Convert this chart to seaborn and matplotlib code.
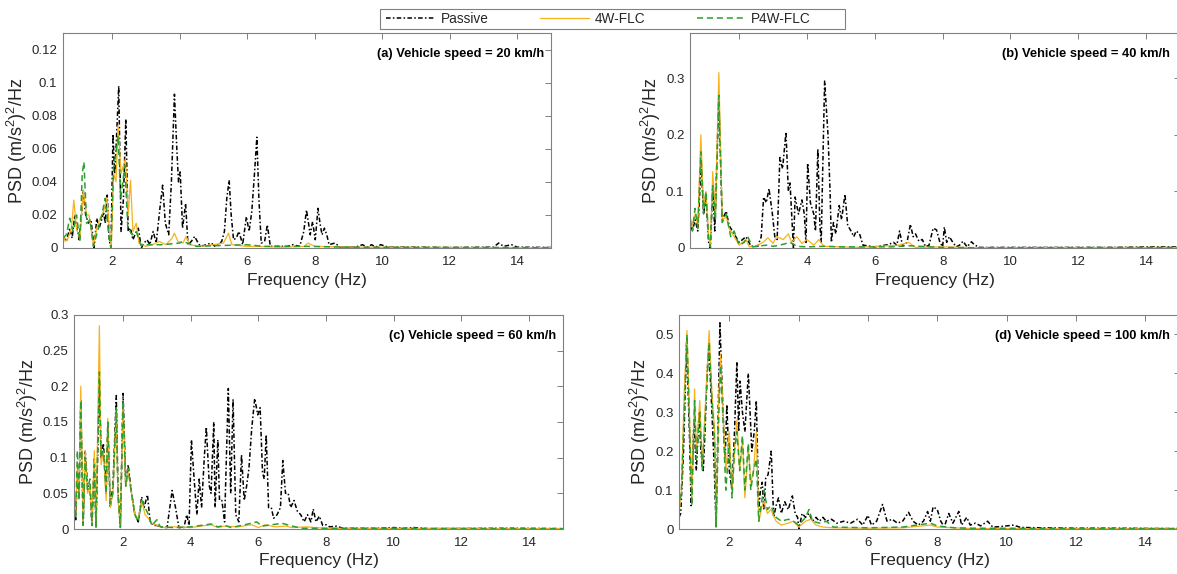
import pandas as pd
import seaborn as sns
import matplotlib.pyplot as plt
import matplotlib.ticker as mticker
from matplotlib.lines import Line2D
from matplotlib.patches import Rectangle

sns.set_style('white')
plt.rcParams['font.family'] = ['Liberation Sans', 'DejaVu Sans']
plt.rcParams['mathtext.fontset'] = 'custom'
plt.rcParams['mathtext.rm'] = 'Liberation Sans'
plt.rcParams['mathtext.it'] = 'Liberation Sans:italic'
plt.rcParams['mathtext.bf'] = 'Liberation Sans:bold'

controllers = ['Passive', '4W-FLC', 'P4W-FLC']
panel_titles = ['(a) Vehicle speed = 20 km/h', '(b) Vehicle speed = 40 km/h',
                '(c) Vehicle speed = 60 km/h', '(d) Vehicle speed = 100 km/h']
y_limits = [0.13, 0.38, 0.30, 0.55]
y_steps = [0.02, 0.1, 0.05, 0.1]
x_ticks = [2, 4, 6, 8, 10, 12, 14]

# (frequency Hz, PSD)
a_passive = [(0.55, 0.007), (0.65, 0.004), (0.75, 0.012), (0.82, 0.006), (0.9, 0.02), (0.96, 0.012),
             (1.03, 0.005), (1.1, 0.02), (1.15, 0.035), (1.22, 0.02), (1.3, 0.015), (1.38, 0.017),
             (1.47, 0.0), (1.55, 0.018), (1.62, 0.012), (1.68, 0.016), (1.75, 0.022), (1.8, 0.015),
             (1.86, 0.032), (1.92, 0.005), (1.97, 0.0), (2.03, 0.069), (2.08, 0.045), (2.12, 0.06),
             (2.2, 0.098), (2.27, 0.01), (2.34, 0.03), (2.41, 0.078), (2.48, 0.01), (2.55, 0.012),
             (2.62, 0.005), (2.7, 0.009), (2.78, 0.012), (2.87, 0.0), (2.95, 0.003), (3.04, 0.005),
             (3.12, 0.002), (3.22, 0.01), (3.31, 0.003), (3.42, 0.024), (3.5, 0.038), (3.58, 0.015),
             (3.68, 0.008), (3.76, 0.04), (3.85, 0.093), (3.92, 0.06), (3.97, 0.04), (4.02, 0.046),
             (4.09, 0.012), (4.18, 0.027), (4.25, 0.002), (4.35, 0.004), (4.45, 0.007), (4.55, 0.003),
             (4.62, 0.001), (4.8, 0.002), (4.94, 0.003), (5.05, 0.001), (5.16, 0.002), (5.25, 0.004),
             (5.33, 0.01), (5.4, 0.03), (5.47, 0.041), (5.53, 0.02), (5.6, 0.005), (5.68, 0.006),
             (5.76, 0.01), (5.87, 0.002), (5.98, 0.019), (6.06, 0.01), (6.14, 0.022), (6.22, 0.045),
             (6.29, 0.067), (6.35, 0.03), (6.42, 0.003), (6.52, 0.004), (6.6, 0.014), (6.69, 0.001),
             (7.0, 0.001), (7.2, 0.001), (7.34, 0.002), (7.56, 0.001), (7.68, 0.01), (7.76, 0.023),
             (7.82, 0.015), (7.87, 0.008), (7.94, 0.016), (8.02, 0.005), (8.1, 0.024), (8.16, 0.015),
             (8.22, 0.008), (8.29, 0.012), (8.36, 0.008), (8.43, 0.002), (8.6, 0.003), (8.76, 0.0005),
             (9.2, 0.0005), (9.42, 0.002), (9.55, 0.0005), (9.69, 0.002), (9.8, 0.0005), (9.96, 0.002),
             (10.18, 0.0005), (11.0, 0.0005), (12.0, 0.0003), (13.3, 0.0005), (13.45, 0.003),
             (13.6, 0.001), (13.83, 0.002), (14.0, 0.0005), (15.0, 0.0003)]
a_4w = [(0.55, 0.008), (0.62, 0.004), (0.7, 0.006), (0.8, 0.012), (0.87, 0.029), (0.95, 0.012),
        (1.05, 0.005), (1.15, 0.035), (1.25, 0.02), (1.32, 0.02), (1.45, 0.002), (1.55, 0.012),
        (1.65, 0.018), (1.75, 0.022), (1.85, 0.03), (1.93, 0.01), (1.98, 0.0), (2.05, 0.045),
        (2.12, 0.04), (2.18, 0.074), (2.27, 0.045), (2.4, 0.054), (2.48, 0.02), (2.55, 0.041),
        (2.62, 0.01), (2.72, 0.015), (2.8, 0.003), (3.0, 0.001), (3.2, 0.002), (3.4, 0.004),
        (3.6, 0.002), (3.78, 0.006), (3.85, 0.009), (3.95, 0.004), (4.1, 0.003), (4.2, 0.007),
        (4.3, 0.002), (4.6, 0.001), (5.0, 0.002), (5.3, 0.003), (5.45, 0.009), (5.55, 0.002),
        (6.0, 0.001), (6.3, 0.001), (7.0, 0.0005), (7.7, 0.001), (7.8, 0.003), (8.0, 0.001),
        (9.0, 0.0005), (12.0, 0.0003), (15.0, 0.0002)]
a_p4w = [(0.55, 0.006), (0.65, 0.008), (0.75, 0.018), (0.85, 0.01), (0.95, 0.02), (1.05, 0.004),
         (1.12, 0.045), (1.17, 0.052), (1.25, 0.015), (1.35, 0.017), (1.45, 0.001), (1.6, 0.012),
         (1.7, 0.02), (1.8, 0.03), (1.9, 0.008), (1.97, 0.0), (2.05, 0.05), (2.1, 0.055),
         (2.18, 0.068), (2.26, 0.03), (2.38, 0.05), (2.47, 0.012), (2.6, 0.008), (2.72, 0.01),
         (2.85, 0.002), (3.5, 0.002), (4.0, 0.003), (4.1, 0.004), (4.5, 0.001), (6.0, 0.002),
         (6.5, 0.001), (7.8, 0.001), (9.0, 0.0005), (15.0, 0.0002)]

b_passive = [(0.55, 0.04), (0.62, 0.03), (0.7, 0.05), (0.78, 0.03), (0.88, 0.15), (0.95, 0.06),
             (1.02, 0.09), (1.1, 0.01), (1.15, 0.0), (1.22, 0.11), (1.28, 0.03), (1.4, 0.27),
             (1.5, 0.05), (1.62, 0.065), (1.7, 0.04), (1.85, 0.025), (2.0, 0.01), (2.2, 0.02),
             (2.35, 0.003), (2.55, 0.003), (2.65, 0.02), (2.72, 0.09), (2.8, 0.08), (2.88, 0.105),
             (2.98, 0.06), (3.05, 0.02), (3.12, 0.015), (3.2, 0.16), (3.28, 0.14), (3.38, 0.205),
             (3.45, 0.1), (3.5, 0.115), (3.6, 0.0), (3.65, 0.09), (3.75, 0.06), (3.85, 0.085),
             (3.92, 0.06), (3.97, 0.01), (4.02, 0.15), (4.1, 0.08), (4.15, 0.07), (4.2, 0.06),
             (4.25, 0.03), (4.32, 0.175), (4.38, 0.04), (4.42, 0.01), (4.45, 0.1), (4.52, 0.295),
             (4.62, 0.2), (4.68, 0.1), (4.72, 0.01), (4.78, 0.045), (4.85, 0.025), (4.95, 0.075),
             (5.02, 0.05), (5.12, 0.095), (5.2, 0.04), (5.3, 0.03), (5.38, 0.02), (5.45, 0.03),
             (5.55, 0.025), (5.65, 0.005), (6.0, 0.002), (6.4, 0.006), (6.55, 0.01), (6.65, 0.005),
             (6.73, 0.03), (6.82, 0.003), (6.95, 0.01), (7.05, 0.042), (7.13, 0.02), (7.2, 0.025),
             (7.3, 0.012), (7.4, 0.015), (7.5, 0.002), (7.6, 0.005), (7.72, 0.035), (7.82, 0.032),
             (7.92, 0.01), (8.0, 0.002), (8.05, 0.037), (8.12, 0.01), (8.2, 0.02), (8.3, 0.01),
             (8.4, 0.002), (8.5, 0.005), (8.6, 0.012), (8.72, 0.002), (8.85, 0.011), (8.95, 0.005),
             (9.1, 0.001), (11.0, 0.001), (13.0, 0.001), (14.2, 0.002), (15.0, 0.002)]
b_4w = [(0.55, 0.055), (0.62, 0.04), (0.7, 0.06), (0.78, 0.04), (0.87, 0.2), (0.95, 0.07),
        (1.02, 0.1), (1.1, 0.02), (1.15, 0.003), (1.22, 0.135), (1.3, 0.06), (1.4, 0.31),
        (1.5, 0.05), (1.62, 0.055), (1.7, 0.035), (1.85, 0.02), (2.0, 0.005), (2.2, 0.015),
        (2.3, 0.002), (2.5, 0.003), (2.7, 0.01), (2.85, 0.018), (3.0, 0.008), (3.1, 0.02),
        (3.3, 0.015), (3.45, 0.025), (3.55, 0.01), (3.7, 0.02), (3.85, 0.008), (4.0, 0.015),
        (4.2, 0.005), (4.35, 0.015), (4.5, 0.003), (5.0, 0.002), (5.5, 0.001), (6.7, 0.005),
        (7.0, 0.01), (7.2, 0.001), (8.0, 0.002), (9.0, 0.0005), (15.0, 0.001)]
b_p4w = [(0.55, 0.05), (0.62, 0.03), (0.7, 0.07), (0.78, 0.035), (0.87, 0.17), (0.95, 0.06),
         (1.02, 0.1), (1.1, 0.015), (1.15, 0.002), (1.22, 0.11), (1.3, 0.05), (1.4, 0.27),
         (1.5, 0.045), (1.62, 0.06), (1.75, 0.02), (1.85, 0.03), (2.0, 0.005), (2.15, 0.01),
         (2.25, 0.02), (2.4, 0.002), (2.8, 0.005), (3.0, 0.003), (3.2, 0.005), (3.5, 0.01),
         (3.7, 0.003), (4.0, 0.002), (4.5, 0.003), (5.0, 0.002), (6.5, 0.002), (7.0, 0.004),
         (8.0, 0.001), (9.0, 0.0005), (15.0, 0.001)]

c_passive = [(0.55, 0.06), (0.6, 0.013), (0.65, 0.08), (0.7, 0.05), (0.75, 0.18), (0.82, 0.005),
             (0.88, 0.11), (0.95, 0.06), (1.02, 0.06), (1.08, 0.005), (1.15, 0.1), (1.2, 0.003),
             (1.3, 0.21), (1.35, 0.1), (1.42, 0.12), (1.5, 0.05), (1.55, 0.15), (1.62, 0.03),
             (1.7, 0.06), (1.8, 0.187), (1.85, 0.05), (1.92, 0.003), (2.0, 0.19), (2.08, 0.06),
             (2.15, 0.09), (2.25, 0.05), (2.35, 0.02), (2.45, 0.01), (2.55, 0.045), (2.62, 0.03),
             (2.72, 0.048), (2.8, 0.01), (2.9, 0.005), (3.0, 0.005), (3.1, 0.003), (3.3, 0.002),
             (3.45, 0.054), (3.55, 0.03), (3.65, 0.002), (3.8, 0.002), (3.88, 0.02), (3.95, 0.005),
             (4.02, 0.125), (4.1, 0.07), (4.18, 0.02), (4.25, 0.07), (4.32, 0.03), (4.4, 0.1),
             (4.46, 0.143), (4.55, 0.06), (4.6, 0.05), (4.68, 0.15), (4.72, 0.03), (4.8, 0.125),
             (4.85, 0.04), (4.92, 0.04), (5.0, 0.01), (5.11, 0.197), (5.18, 0.05), (5.25, 0.182),
             (5.33, 0.02), (5.42, 0.01), (5.5, 0.104), (5.58, 0.04), (5.65, 0.06), (5.72, 0.085),
             (5.8, 0.14), (5.89, 0.183), (5.98, 0.16), (6.05, 0.17), (6.12, 0.08), (6.17, 0.07),
             (6.23, 0.132), (6.3, 0.03), (6.38, 0.03), (6.45, 0.015), (6.55, 0.02), (6.65, 0.03),
             (6.72, 0.096), (6.8, 0.05), (6.88, 0.05), (6.95, 0.03), (7.05, 0.04), (7.15, 0.025),
             (7.25, 0.02), (7.35, 0.01), (7.45, 0.02), (7.55, 0.01), (7.62, 0.028), (7.7, 0.01),
             (7.8, 0.018), (7.9, 0.005), (8.0, 0.006), (8.1, 0.003), (8.3, 0.004), (8.5, 0.001),
             (9.5, 0.001), (10.0, 0.002), (10.3, 0.001), (10.6, 0.002), (11.0, 0.0005),
             (13.5, 0.001), (15.0, 0.0005)]
c_4w = [(0.55, 0.06), (0.6, 0.02), (0.65, 0.09), (0.7, 0.05), (0.75, 0.2), (0.82, 0.01),
        (0.88, 0.11), (0.95, 0.05), (1.02, 0.06), (1.08, 0.01), (1.15, 0.11), (1.2, 0.005),
        (1.3, 0.285), (1.35, 0.09), (1.42, 0.11), (1.5, 0.04), (1.55, 0.155), (1.62, 0.03),
        (1.7, 0.05), (1.8, 0.17), (1.85, 0.04), (1.92, 0.005), (2.0, 0.175), (2.08, 0.06),
        (2.15, 0.08), (2.25, 0.05), (2.35, 0.02), (2.45, 0.015), (2.55, 0.04), (2.65, 0.02),
        (2.75, 0.015), (2.85, 0.008), (3.0, 0.005), (3.2, 0.002), (3.5, 0.003), (4.0, 0.002),
        (4.3, 0.004), (4.6, 0.006), (4.8, 0.002), (5.0, 0.004), (5.4, 0.003), (5.8, 0.006),
        (6.0, 0.002), (6.2, 0.006), (6.5, 0.003), (6.8, 0.004), (7.0, 0.002), (7.4, 0.003),
        (8.0, 0.001), (9.0, 0.001), (15.0, 0.0005)]
c_p4w = [(0.55, 0.055), (0.6, 0.015), (0.65, 0.11), (0.7, 0.04), (0.75, 0.18), (0.82, 0.005),
         (0.88, 0.1), (0.95, 0.055), (1.02, 0.07), (1.08, 0.005), (1.15, 0.09), (1.2, 0.003),
         (1.3, 0.22), (1.35, 0.1), (1.42, 0.11), (1.5, 0.05), (1.55, 0.15), (1.62, 0.035),
         (1.7, 0.05), (1.8, 0.17), (1.85, 0.05), (1.92, 0.002), (2.0, 0.18), (2.08, 0.06),
         (2.15, 0.085), (2.25, 0.05), (2.35, 0.02), (2.45, 0.01), (2.55, 0.04), (2.65, 0.03),
         (2.75, 0.02), (2.85, 0.005), (3.0, 0.013), (3.1, 0.003), (3.5, 0.002), (4.0, 0.003),
         (4.3, 0.005), (4.6, 0.007), (4.8, 0.003), (5.0, 0.005), (5.2, 0.002), (5.6, 0.006),
         (5.95, 0.01), (6.1, 0.004), (6.4, 0.006), (6.7, 0.008), (7.0, 0.004), (7.3, 0.001),
         (8.0, 0.001), (15.0, 0.0005)]

d_passive = [(0.55, 0.03), (0.6, 0.04), (0.68, 0.2), (0.77, 0.48), (0.85, 0.25), (0.9, 0.06),
             (0.98, 0.28), (1.05, 0.15), (1.13, 0.3), (1.18, 0.2), (1.25, 0.15), (1.3, 0.25),
             (1.36, 0.4), (1.41, 0.47), (1.5, 0.3), (1.57, 0.15), (1.62, 0.005), (1.68, 0.3),
             (1.73, 0.53), (1.82, 0.3), (1.88, 0.18), (1.93, 0.32), (2.0, 0.15), (2.08, 0.1),
             (2.15, 0.25), (2.22, 0.43), (2.27, 0.25), (2.31, 0.38), (2.38, 0.3), (2.45, 0.25),
             (2.55, 0.4), (2.6, 0.3), (2.65, 0.2), (2.72, 0.25), (2.78, 0.33), (2.85, 0.05),
             (2.9, 0.1), (2.95, 0.12), (3.0, 0.05), (3.05, 0.13), (3.12, 0.14), (3.21, 0.2),
             (3.28, 0.03), (3.35, 0.06), (3.42, 0.08), (3.5, 0.04), (3.6, 0.07), (3.7, 0.05),
             (3.82, 0.085), (3.9, 0.04), (3.97, 0.03), (4.01, 0.0), (4.1, 0.04), (4.2, 0.03),
             (4.3, 0.04), (4.4, 0.02), (4.5, 0.03), (4.6, 0.02), (4.7, 0.03), (4.8, 0.02),
             (4.95, 0.025), (5.1, 0.015), (5.3, 0.02), (5.5, 0.015), (5.7, 0.025), (5.85, 0.01),
             (6.0, 0.035), (6.1, 0.01), (6.25, 0.02), (6.42, 0.063), (6.55, 0.02), (6.7, 0.025),
             (6.85, 0.015), (7.0, 0.02), (7.17, 0.043), (7.3, 0.02), (7.45, 0.01), (7.6, 0.02),
             (7.72, 0.045), (7.8, 0.02), (7.88, 0.057), (8.0, 0.05), (8.1, 0.02), (8.2, 0.005),
             (8.33, 0.04), (8.45, 0.015), (8.62, 0.045), (8.7, 0.01), (8.85, 0.03), (8.95, 0.01),
             (9.1, 0.015), (9.25, 0.008), (9.45, 0.02), (9.6, 0.005), (9.8, 0.006), (10.0, 0.008),
             (10.2, 0.01), (10.4, 0.004), (11.0, 0.003), (12.0, 0.002), (13.0, 0.002),
             (15.0, 0.001)]
d_4w = [(0.55, 0.04), (0.62, 0.1), (0.7, 0.35), (0.78, 0.51), (0.85, 0.3), (0.92, 0.08),
        (1.0, 0.36), (1.05, 0.2), (1.15, 0.33), (1.22, 0.16), (1.3, 0.3), (1.42, 0.51),
        (1.5, 0.35), (1.58, 0.25), (1.62, 0.01), (1.7, 0.35), (1.75, 0.45), (1.82, 0.3),
        (1.9, 0.15), (2.0, 0.25), (2.08, 0.1), (2.15, 0.2), (2.22, 0.28), (2.3, 0.15),
        (2.38, 0.23), (2.45, 0.08), (2.55, 0.21), (2.62, 0.12), (2.7, 0.15), (2.78, 0.25),
        (2.85, 0.02), (2.95, 0.06), (3.0, 0.07), (3.1, 0.04), (3.2, 0.05), (3.35, 0.02),
        (3.5, 0.01), (3.7, 0.015), (3.85, 0.02), (4.0, 0.005), (4.2, 0.02), (4.35, 0.025),
        (4.5, 0.01), (4.7, 0.005), (5.0, 0.003), (6.0, 0.002), (7.0, 0.003), (7.8, 0.01),
        (8.0, 0.005), (9.0, 0.001), (15.0, 0.0005)]
d_p4w = [(0.55, 0.05), (0.62, 0.1), (0.7, 0.3), (0.78, 0.5), (0.85, 0.28), (0.92, 0.06),
         (1.0, 0.33), (1.05, 0.18), (1.15, 0.3), (1.22, 0.15), (1.3, 0.28), (1.42, 0.48),
         (1.5, 0.33), (1.58, 0.22), (1.62, 0.005), (1.7, 0.3), (1.75, 0.42), (1.82, 0.28),
         (1.9, 0.1), (2.0, 0.22), (2.08, 0.08), (2.15, 0.2), (2.22, 0.25), (2.3, 0.15),
         (2.38, 0.24), (2.45, 0.1), (2.55, 0.22), (2.62, 0.1), (2.7, 0.15), (2.78, 0.18),
         (2.85, 0.02), (2.95, 0.08), (3.0, 0.1), (3.1, 0.05), (3.2, 0.06), (3.35, 0.03),
         (3.5, 0.02), (3.7, 0.025), (3.85, 0.02), (4.0, 0.01), (4.2, 0.03), (4.3, 0.05),
         (4.4, 0.02), (4.6, 0.015), (4.8, 0.02), (5.0, 0.005), (6.0, 0.003), (7.0, 0.005),
         (7.8, 0.015), (8.0, 0.008), (8.5, 0.003), (9.0, 0.002), (15.0, 0.001)]

panels = [(a_passive, a_4w, a_p4w), (b_passive, b_4w, b_p4w),
          (c_passive, c_4w, c_p4w), (d_passive, d_4w, d_p4w)]

colors = {'Passive': 'black', '4W-FLC': '#F7B21E', 'P4W-FLC': '#2E9E2E'}
dashes = {'Passive': (3, 1.5, 1, 1.5), '4W-FLC': '', 'P4W-FLC': (4, 2.5)}
widths = {'Passive': 1.1, '4W-FLC': 0.9, 'P4W-FLC': 1.1}
frame_col = '#808080'
text_col = '#262626'

W, H = 1177, 574
fig = plt.figure(figsize=(W / 100, H / 100), dpi=100)
# axes boxes in pixels: left, top, right, bottom
boxes = [(63, 33, 551, 248), (690, 33, 1180, 248), (74, 315, 563, 529), (679, 315, 1180, 529)]
title_x = [0.985, 0.98, 0.985, 0.98]

for i, (series, box) in enumerate(zip(panels, boxes)):
    l, t, r, b = box
    ax = fig.add_axes([l / W, (H - b) / H, (r - l) / W, (b - t) / H])
    for c, s in zip(controllers, series):
        df = pd.DataFrame(s, columns=['freq', 'psd'])
        sns.lineplot(data=df, x='freq', y='psd', color=colors[c], lw=widths[c],
                     dashes=False, estimator=None, ax=ax,
                     **({} if c == '4W-FLC' else {'linestyle': (0, dashes[c])}))
    ax.set_xlim(0.55, 15)
    ax.set_ylim(0, y_limits[i])
    ax.set_xticks(x_ticks)
    ax.yaxis.set_major_locator(mticker.MultipleLocator(y_steps[i]))
    ax.yaxis.set_major_formatter(mticker.FuncFormatter(lambda v, _: f'{v:g}'))
    ax.tick_params(direction='in', top=True, right=True, length=4, width=0.7,
                   color=frame_col, labelcolor=text_col, labelsize=9.5)
    ax.tick_params(axis='x', pad=6)
    ax.tick_params(axis='y', pad=4)
    for sp in ax.spines.values():
        sp.set_color(frame_col)
        sp.set_linewidth(0.8)
    ax.set_xlabel('Frequency (Hz)', fontsize=12.5, color=text_col, labelpad=3)
    ax.set_ylabel(r'PSD (m/s$^2$)$^2$/Hz', fontsize=13, color=text_col, labelpad=2)
    ax.text(title_x[i], 0.9, panel_titles[i], transform=ax.transAxes,
            ha='right', va='center', fontsize=9.3, fontweight='bold',
            family=['Liberation Sans Narrow', 'Liberation Sans'], color='black')

# legend box at the top of the figure
fig.patches.append(Rectangle((380 / W, (H - 29) / H), 465 / W, 20 / H, transform=fig.transFigure,
                             fill=True, facecolor='white', edgecolor=frame_col, lw=0.8))
handles = [Line2D([], [], color=colors[c], lw=widths[c]) for c in controllers]
handles[0].set_linestyle((0, dashes['Passive']))
handles[2].set_linestyle((0, dashes['P4W-FLC']))
fig.legend(handles, controllers, loc='center left', bbox_to_anchor=(386 / W, (H - 19) / H),
           ncol=3, frameon=False, fontsize=9.8, handlelength=3.6, handletextpad=0.4,
           columnspacing=3.8, borderpad=0, borderaxespad=0, labelcolor=text_col)

fig.savefig('out.png', dpi=100)
